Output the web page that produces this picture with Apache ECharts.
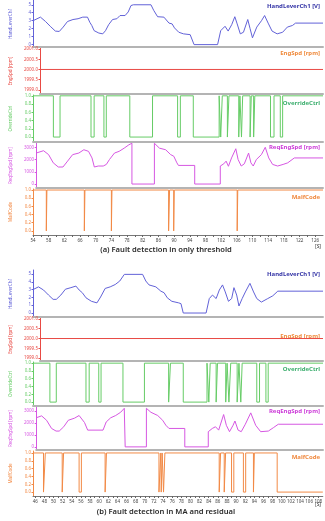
<!DOCTYPE html>
<html lang="en">
<head>
<meta charset="UTF-8">
<title>Fault detection</title>
<script src="https://cdn.jsdelivr.net/npm/echarts@6/dist/echarts.min.js"></script>
<style>html,body{margin:0;padding:0;background:#fff}</style>
</head>
<body>
<div id="app" style="width:325px;height:521px"></div>
<script>
// ---------- (a) only threshold : [time s, value] ----------
var handA = [[54,3.0],[55.9,3.45],[57.2,2.9],[58.4,2.3],[59.7,1.7],[60.7,1.65],[61.7,2.2],[62.8,2.9],[64.2,3.15],[65.5,3.25],
  [66.7,3.45],[67.9,3.45],[68.5,2.8],[69.0,2.4],[69.6,1.75],[70.8,1.45],[71.8,1.35],[72.5,1.75],[73.3,2.5],[74.3,3.15],
  [75.4,3.25],[76.2,3.65],[77.5,3.65],[78.3,4.1],[79.0,4.9],[79.6,5.0],[84.1,5.0],[84.8,4.3],[85.8,3.5],[87.4,3.45],
  [88.7,2.7],[89.5,2.6],[90.1,2.1],[91.2,1.55],[92.4,1.35],[94.1,1.25],[95.1,0],[101.1,0],[101.9,1.75],[103.0,2.3],
  [103.8,1.7],[104.7,2.5],[105.5,3.5],[106.1,2.6],[106.9,1.35],[107.7,1.55],[108.8,3.15],[109.4,2.0],[110.0,0.85],[111.1,2.2],
  [112.3,3.0],[113.1,3.65],[114.0,2.7],[115.0,1.7],[116.3,1.35],[117.7,1.55],[118.9,2.2],[120.2,2.4],[121.0,2.7],[128,2.7]];
var reqA = [[54,2530],[55.9,2720],[57.2,2400],[58.4,1730],[59.7,1390],[60.9,1390],[62.1,1870],[63.4,2400],[65.0,2530],[66.3,2800],
  [67.5,2670],[68.4,2130],[69.0,1390],[70.0,1470],[71.3,1470],[72.1,1600],[72.9,2000],[74.2,2530],[75.4,2670],[76.7,2930],
  [77.9,3200],[78.7,3330],[78.7,0],[84.5,0],[84.5,3330],[85.8,2930],[87.4,2800],[88.7,2400],[89.5,2270],[90.3,1730],
  [90.7,1520],[94.9,1520],[94.9,0],[101.5,0],[101.5,1470],[102.4,1650],[103.0,1870],[103.6,1450],[104.4,2130],[105.5,2880],
  [106.1,2000],[106.9,1470],[107.7,1650],[108.8,2530],[109.4,1730],[110.0,1470],[110.8,2000],[112.1,2400],[113.1,3000],[114.0,2130],
  [115.0,1600],[116.3,1470],[117.7,1600],[118.9,1730],[120.6,2130],[128,2130]];
var overrideLowA = [[59.2,60.9],[68.8,69.6],[72.1,72.7],[78.7,84.5],[90.9,91.6],[94.9,101.5],[101.9,102.3],[103.6,104.0],
  [106.5,106.8],[107.2,107.5],[109.4,109.7],[110.3,110.6],[114.6,115.5],[117.1,117.7]];
var malfLowA = [[57.4,57.55],[67.1,67.25],[74.0,74.15],[88.6,88.85],[89.9,90.05],[106.1,106.25]];
var xLabelsA = [54,58,62,66,70,74,78,82,86,90,94,98,102,106,110,114,118,122,126];

// ---------- (b) MA and residual ----------
var handB = [[45.5,3.0],[46.7,3.35],[47.8,2.95],[48.9,2.3],[49.9,1.75],[50.6,1.75],[51.6,2.3],[52.6,3.05],[53.8,3.25],[54.9,3.45],
  [55.6,2.95],[56.3,2.6],[57.1,1.95],[58.3,1.5],[59.5,1.3],[60.3,2.05],[61.3,3.15],[62.4,3.35],[63.5,3.65],[64.5,4.1],
  [65.5,4.95],[69.5,4.95],[70.2,4.1],[70.9,3.6],[72.4,3.35],[73.5,2.8],[74.2,2.6],[74.9,1.95],[75.9,1.5],[77.4,1.3],
  [77.9,1.2],[78.4,0],[83.4,0],[84.1,1.85],[84.8,2.3],[85.6,1.85],[86.3,2.95],[87.0,3.6],[87.6,2.7],[88.3,1.5],
  [89.0,1.85],[89.5,3.25],[90.1,2.3],[90.6,0.9],[91.3,1.85],[92.0,2.7],[93.0,3.8],[93.8,2.7],[94.5,1.85],[95.5,1.4],
  [96.9,1.85],[98.0,2.2],[99.1,2.8],[109,2.8]];
var reqB = [[45.5,2430],[46.7,2590],[47.8,2220],[48.9,1540],[49.9,1320],[50.6,1320],[51.6,1680],[52.6,2220],[54.0,2400],[55.0,2620],
  [56.2,2030],[56.9,1400],[60.3,1400],[61.0,2080],[62.0,2430],[63.1,2620],[64.2,2890],[65.0,3220],[65.2,3220],[65.2,0],
  [69.9,0],[69.9,3220],[70.9,2890],[72.4,2620],[73.5,2220],[74.2,1810],[74.9,1540],[78.4,1540],[78.4,0],[83.6,0],
  [83.6,1270],[84.5,1540],[85.2,1680],[85.9,1400],[87.0,2700],[87.6,1800],[88.3,1270],[89.1,1810],[89.5,2160],[90.2,1400],
  [90.9,1270],[91.8,1890],[93.0,2840],[94.1,1800],[95.2,1270],[96.9,1320],[98.0,1600],[99.1,1890],[109,1890]];
var overrideLowB = [[49.2,50.6],[57.1,57.8],[59.9,60.4],[65.2,69.9],[75.2,75.6],[78.4,83.6],[84.0,84.3],[85.6,85.9],
  [87.7,88.0],[88.4,88.8],[90.2,90.6],[91.0,91.3],[94.5,95.1],[96.5,97.0]];
var malfLowB = [[47.8,48.2],[51.9,52.2],[55.6,56.1],[61.3,61.6],[73.1,73.5],[73.6,73.8],[74.1,74.4],[86.3,86.6],
  [87.4,87.7],[89.0,89.5],[91.6,92.1],[93.8,94.0],[99.0,109]];
var xLabelsB = [46,48,50,52,54,56,58,60,62,64,66,68,70,72,74,76,78,80,82,84,86,88,90,92,94,96,98,100,102,104,106,108];

var engSpd = 2000;
var axisNames = ['HandLeverCh1', 'EngSpd [rpm]', 'OverrideCtrl', 'ReqEngSpd [rpm]', 'MalfCode'];
var seriesTags = ['HandLeverCh1 [V]', 'EngSpd [rpm]', 'OverrideCtrl', 'ReqEngSpd [rpm]', 'MalfCode'];
var yTicks = [[0,1,2,3,4,5], [1999,1999.5,2000,2000.5,2001], [0,0.2,0.4,0.6,0.8,1], [0,1000,2000,3000], [0,0.2,0.4,0.6,0.8,1]];
var yDecimals = [0, 1, 1, 0, 1];
var titles = ['(a) Fault detection in only threshold', '(b) Fault detection in MA and residual'];

var lineColors = ['#6262d8', '#e84a44', '#66cc66', '#d657e2', '#f28a46'];
var tagColors = ['#3434a6', '#ef8a3c', '#3cae6e', '#cc3ad8', '#f08a40'];
var font = 'Noto Sans';

// layout of the stacked plots
var layout = [
  { left: 26, range: [54, 128], titleY: 250, unitY: 247, tagY: [6, 53, 103, 147, 197],
    rows: [[0,47,-0.3,5.6],[48,46,1998.8,2001.05],[95,47,-0.12,1.02],[143,45,-324,3350],[189,46,-0.1,1.025]] },
  { left: 26, range: [45.5, 109], titleY: 512, unitY: 505, tagY: [274, 336, 369, 411, 457],
    rows: [[270,47,-0.51,5.51],[318,43,1998.85,2001.05],[362,44,-0.1,1.03],[407,43,-260,3330],[451,45,-0.1,1.05]] }
];

function stepData(lows, range) {
  var pts = [[range[0], 1]];
  lows.forEach(function (d) {
    pts.push([d[0], 1], [d[0], 0], [d[1], 0]);
    if (d[1] < range[1]) pts.push([d[1], 1]);
  });
  pts.push([range[1], pts[pts.length - 1][1]]);
  return pts;
}

function withMid(labels) {
  var out = [];
  for (var i = 0; i < labels.length; i++) {
    out.push(labels[i]);
    if (i < labels.length - 1) out.push((labels[i] + labels[i + 1]) / 2);
  }
  return out;
}

var panelData = [
  [handA, [[54, engSpd], [128, engSpd]], stepData(overrideLowA, layout[0].range), reqA, stepData(malfLowA, layout[0].range)],
  [handB, [[45.5, engSpd], [109, engSpd]], stepData(overrideLowB, layout[1].range), reqB, stepData(malfLowB, layout[1].range)]
];
var panelXLabels = [xLabelsA, xLabelsB];

var grid = [], xAxis = [], yAxis = [], series = [], graphic = [];

layout.forEach(function (pl, p) {
  pl.rows.forEach(function (row, r) {
    var gi = p * 5 + r;
    var bottom = r === 4;
    grid.push({ left: pl.left, right: 2, top: row[0], height: row[1] });
    xAxis.push({
      gridIndex: gi, type: 'value', min: pl.range[0], max: pl.range[1],
      splitLine: { show: false },
      axisLine: { onZero: false, lineStyle: { color: bottom ? '#777' : '#b4b4b4', width: bottom ? 1 : 2 } },
      axisTick: { show: bottom, length: 2, lineStyle: { color: '#666' }, customValues: withMid(panelXLabels[p]) },
      axisLabel: { show: bottom, customValues: panelXLabels[p], fontSize: 4.5, color: '#444', margin: 3, fontFamily: font }
    });
    yAxis.push({
      gridIndex: gi, type: 'value', min: row[2], max: row[3],
      name: axisNames[r], nameLocation: 'middle', nameRotate: 90, nameGap: 20,
      nameTextStyle: { color: lineColors[r], fontSize: 4.5, fontFamily: font },
      splitLine: { show: false },
      axisLine: { show: true, lineStyle: { color: lineColors[r], width: 1 } },
      axisTick: { show: true, length: 1.5, customValues: yTicks[r], lineStyle: { color: lineColors[r] } },
      axisLabel: {
        customValues: yTicks[r], fontSize: 4.5, color: lineColors[r], margin: 2, fontFamily: font,
        formatter: (function (d) { return function (v) { return Number(v).toFixed(d); }; })(yDecimals[r])
      }
    });
    series.push({
      type: 'line', xAxisIndex: gi, yAxisIndex: gi, data: panelData[p][r],
      showSymbol: false, silent: true, animation: false,
      lineStyle: { color: lineColors[r], width: 1 }
    });
    graphic.push({
      type: 'text', x: 320, y: pl.tagY[r],
      style: { text: seriesTags[r], align: 'right', verticalAlign: 'middle', fill: tagColors[r],
        font: 'bold 6px "' + font + '"' }
    });
  });
  graphic.push({
    type: 'text', x: 166, y: pl.titleY,
    style: { text: titles[p], align: 'center', verticalAlign: 'middle', fill: '#2a2a2a', font: '600 7.6px "' + font + '"' }
  });
  graphic.push({
    type: 'text', x: 318, y: pl.unitY,
    style: { text: '[S]', align: 'center', verticalAlign: 'middle', fill: '#333', font: '5px "' + font + '"' }
  });
});

var myChart = echarts.init(document.getElementById('app'));
myChart.setOption({
  animation: false,
  backgroundColor: '#fff',
  grid: grid,
  xAxis: xAxis,
  yAxis: yAxis,
  series: series,
  graphic: graphic
});
</script>
</body>
</html>
